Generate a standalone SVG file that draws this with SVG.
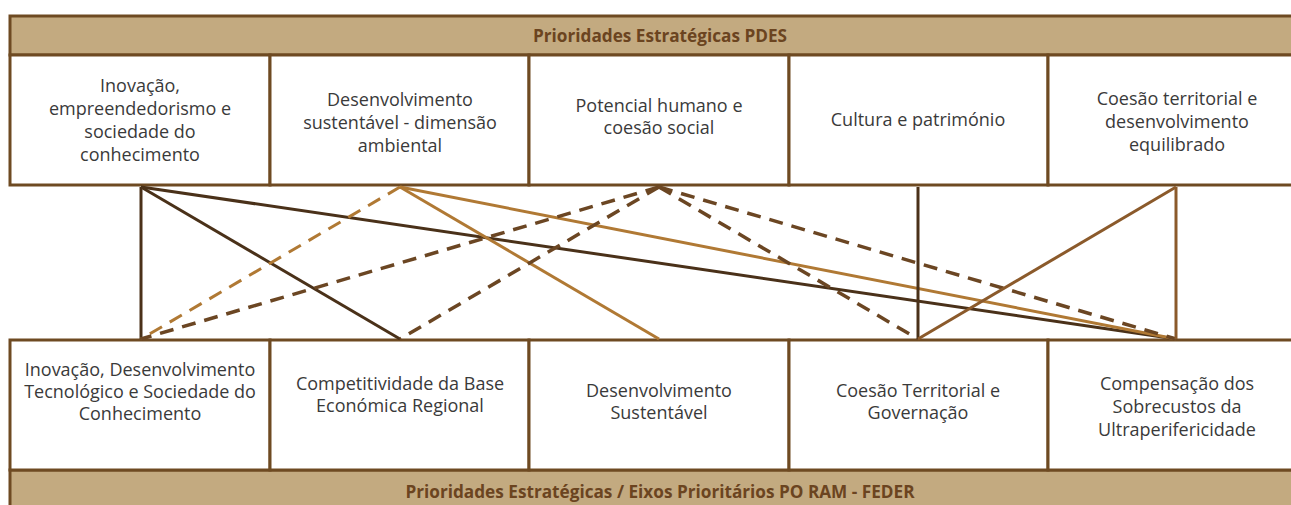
<svg xmlns="http://www.w3.org/2000/svg" width="1291" height="505" viewBox="0 0 1291 505">
<style>
.band{fill:#c3aa80;stroke:#6e4a22;stroke-width:3}
.box{fill:#fff;stroke:#6e4a22;stroke-width:3}
.hdr{font-family:"Open Sans","Noto Sans",sans-serif;font-weight:bold;font-size:17.2px;fill:#6b4420;text-anchor:middle}
.lbl{font-family:"Open Sans","Noto Sans",sans-serif;font-size:18px;fill:#3a3a3a;text-anchor:middle}
.dk{stroke:#4a3119;stroke-width:3;fill:none}
.lt{stroke:#b07934;stroke-width:3;fill:none}
.ltd{stroke:#b07934;stroke-width:3;fill:none;stroke-dasharray:14 9}
.md{stroke:#6b4623;stroke-width:3.5;fill:none;stroke-dasharray:14 9}
.mb{stroke:#8b5a2b;stroke-width:3;fill:none}
</style>
<rect width="1291" height="505" fill="#fff"/>
<g id="header-top">
<rect class="band" x="10" y="16" width="1300" height="39"/>
<text class="hdr" x="660" y="42">Prioridades Estratégicas PDES</text>
</g>
<g id="header-bottom">
<rect class="band" x="10" y="470" width="1300" height="50"/>
<text class="hdr" x="660" y="498">Prioridades Estratégicas / Eixos Prioritários PO RAM - FEDER</text>
</g>
<g id="t1"><rect class="box" x="10" y="55" width="260" height="130"/>
<text class="lbl" y="92"><tspan x="140">Inovação,</tspan><tspan x="140" dy="23">empreendedorismo e</tspan><tspan x="140" dy="23">sociedade do</tspan><tspan x="140" dy="23">conhecimento</tspan></text></g>
<g id="t2"><rect class="box" x="270" y="55" width="259" height="130"/>
<text class="lbl" y="106"><tspan x="400">Desenvolvimento</tspan><tspan x="400" dy="23">sustentável - dimensão</tspan><tspan x="400" dy="23">ambiental</tspan></text></g>
<g id="t3"><rect class="box" x="529" y="55" width="260" height="130"/>
<text class="lbl" y="112"><tspan x="659">Potencial humano e</tspan><tspan x="659" dy="22">coesão social</tspan></text></g>
<g id="t4"><rect class="box" x="789" y="55" width="259" height="130"/>
<text class="lbl" x="918" y="126">Cultura e património</text></g>
<g id="t5"><rect class="box" x="1048" y="55" width="262" height="130"/>
<text class="lbl" y="105"><tspan x="1177">Coesão territorial e</tspan><tspan x="1177" dy="23">desenvolvimento</tspan><tspan x="1177" dy="23">equilibrado</tspan></text></g>
<g id="b1"><rect class="box" x="10" y="340" width="260" height="130"/>
<text class="lbl" y="376"><tspan x="140">Inovação, Desenvolvimento</tspan><tspan x="140" dy="22">Tecnológico e Sociedade do</tspan><tspan x="140" dy="22">Conhecimento</tspan></text></g>
<g id="b2"><rect class="box" x="270" y="340" width="259" height="130"/>
<text class="lbl" y="390"><tspan x="400">Competitividade da Base</tspan><tspan x="400" dy="22">Económica Regional</tspan></text></g>
<g id="b3"><rect class="box" x="529" y="340" width="260" height="130"/>
<text class="lbl" y="397"><tspan x="659">Desenvolvimento</tspan><tspan x="659" dy="22">Sustentável</tspan></text></g>
<g id="b4"><rect class="box" x="789" y="340" width="259" height="130"/>
<text class="lbl" y="397"><tspan x="918">Coesão Territorial e</tspan><tspan x="918" dy="22">Governação</tspan></text></g>
<g id="b5"><rect class="box" x="1048" y="340" width="262" height="130"/>
<text class="lbl" y="390"><tspan x="1177">Compensação dos</tspan><tspan x="1177" dy="23">Sobrecustos da</tspan><tspan x="1177" dy="23">Ultraperifericidade</tspan></text></g>
<g id="connectors">
<line class="dk" x1="141" y1="187" x2="141" y2="339"/>
<line class="dk" x1="141" y1="187" x2="400" y2="339"/>
<line class="dk" x1="141" y1="187" x2="1176" y2="339"/>
<line class="ltd" x1="400" y1="187" x2="141" y2="339"/>
<line class="lt" x1="400" y1="187" x2="659" y2="339"/>
<line class="lt" x1="400" y1="187" x2="1176" y2="339"/>
<line class="md" x1="659" y1="187" x2="141" y2="339"/>
<line class="md" x1="659" y1="187" x2="400" y2="339"/>
<line class="md" x1="659" y1="187" x2="918" y2="339"/>
<line class="md" x1="659" y1="187" x2="1176" y2="339"/>
<line class="dk" x1="918" y1="187" x2="918" y2="339"/>
<line class="mb" x1="1176" y1="187" x2="918" y2="339"/>
<line class="mb" x1="1176" y1="187" x2="1176" y2="339"/>
</g>
</svg>
